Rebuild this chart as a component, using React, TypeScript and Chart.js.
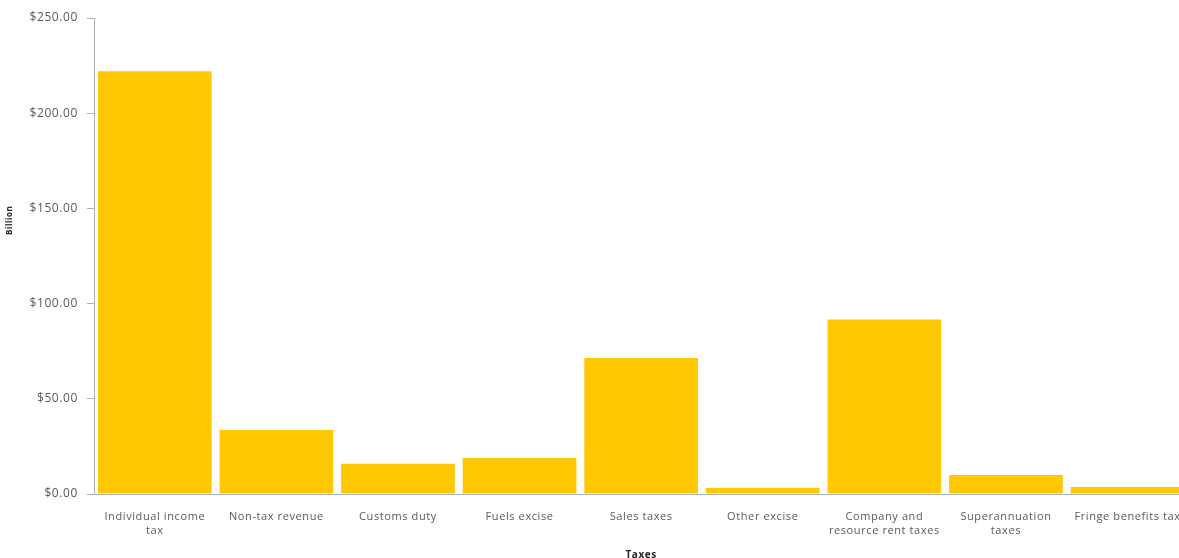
import React, { useEffect, useRef } from "react";
import { Chart, registerables } from "chart.js";

Chart.register(...registerables);

const categories: (string | string[])[] = [
  ["Individual income", "tax"],
  "Non-tax revenue",
  "Customs duty",
  "Fuels excise",
  "Sales taxes",
  "Other excise",
  ["Company and", "resource rent taxes"],
  ["Superannuation", "taxes"],
  "Fringe benefits tax",
];

const revenueBillions: number[] = [222.0, 33.6, 15.9, 18.9, 71.4, 3.2, 91.6, 10.0, 3.7];

const yTickValues: number[] = [0, 50, 100, 150, 200, 250];

const yAxisTitle = "Billion";
const xAxisTitle = "Taxes";

const FONT = "'Open Sans', 'Liberation Sans', sans-serif";

export default function App() {
  const canvasRef = useRef<HTMLCanvasElement | null>(null);

  useEffect(() => {
    document.body.style.margin = "0";
    const canvas = canvasRef.current;
    if (!canvas) return;

    const spacingPlugin = {
      id: "spacingPlugin",
      beforeDraw(chart: any) {
        (chart.ctx as any).letterSpacing = "0.6px";
      },
    };

    const yTitlePlugin = {
      id: "yTitlePlugin",
      afterDraw(chart: any) {
        const { ctx, chartArea } = chart;
        const y = chartArea.top + (chartArea.bottom - chartArea.top) * 0.425;
        ctx.save();
        ctx.translate(10, y);
        ctx.rotate(-Math.PI / 2);
        ctx.font = `bold 8px ${FONT}`;
        ctx.fillStyle = "#262626";
        ctx.textAlign = "center";
        ctx.textBaseline = "middle";
        ctx.fillText(yAxisTitle, 0, 0);
        ctx.restore();
      },
    };

    const chart = new Chart(canvas, {
      type: "bar",
      data: {
        labels: categories,
        datasets: [
          {
            data: revenueBillions,
            backgroundColor: "#FFC800",
            borderWidth: 0,
            barPercentage: 0.935,
            categoryPercentage: 1,
          },
        ],
      },
      plugins: [spacingPlugin, yTitlePlugin],
      options: {
        animation: false,
        responsive: false,
        events: [],
        layout: { padding: { top: 18, right: 1, left: 0, bottom: 0 } },
        plugins: {
          legend: { display: false },
          tooltip: { enabled: false },
          title: { display: false },
        },
        scales: {
          x: {
            grid: { display: false, drawTicks: false },
            border: { display: true, color: "#a9b6c6", width: 1 },
            ticks: {
              color: "#595959",
              font: { family: FONT, size: 11, lineHeight: 1.35 },
              padding: 15,
              maxRotation: 0,
              autoSkip: false,
            },
            title: {
              display: true,
              text: xAxisTitle,
              color: "#262626",
              font: { family: FONT, size: 10, weight: "bold" },
              padding: { top: 0, bottom: 4 },
            },
            afterFit(axis: any) {
              axis.height = 71;
            },
          },
          y: {
            min: 0,
            max: 250,
            afterBuildTicks(axis: any) {
              axis.ticks = yTickValues.map((v) => ({ value: v }));
            },
            grid: {
              drawOnChartArea: false,
              drawTicks: true,
              tickLength: 7,
              color: "#b0b0b0",
            },
            border: { display: true, color: "#b0b0b0", width: 1 },
            ticks: {
              color: "#595959",
              font: { family: FONT, size: 12 },
              padding: 9,
              callback: (v: any) => "$" + Number(v).toFixed(2),
            },
            afterFit(axis: any) {
              axis.width = 94;
            },
          },
        },
      },
    });

    return () => chart.destroy();
  }, []);

  return (
    <div
      style={{
        position: "fixed",
        left: 0,
        top: 0,
        width: 1179,
        height: 558,
        overflow: "hidden",
        background: "#ffffff",
      }}
    >
      <canvas
        ref={canvasRef}
        width={1190}
        height={565}
        style={{ display: "block", width: 1190, height: 565 }}
      />
    </div>
  );
}
